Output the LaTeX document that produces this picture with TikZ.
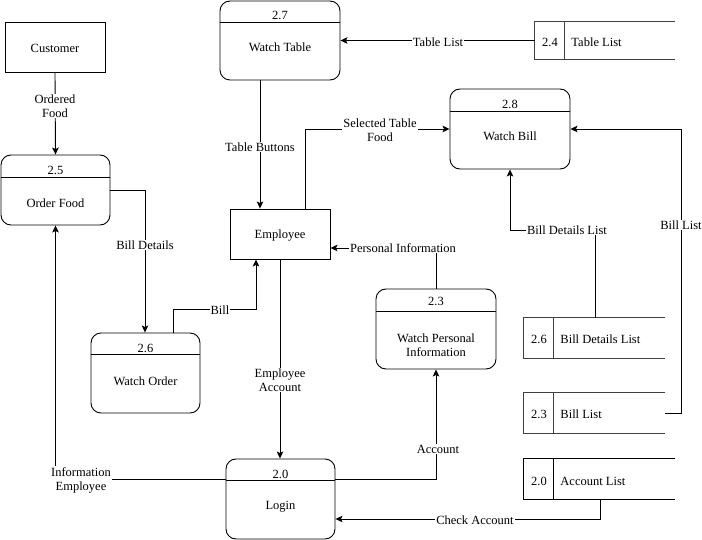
\documentclass[tikz,border=0pt]{standalone}
\usepackage{fontspec}
\setmainfont{Liberation Serif}
\newfontfamily\dfdfont{Liberation Serif}
\usetikzlibrary{arrows.meta,calc}

\begin{document}
\begin{tikzpicture}[x=1pt,y=-1pt,line width=0.9pt,
  every node/.style={font=\dfdfont\fontsize{12.5}{14}\selectfont,inner sep=0pt},
  procbox/.style={draw,rounded corners=10pt},
  extbox/.style={draw,rectangle},
  storebox/.style={rectangle},
  storeline/.style={draw=black!75,line width=1.1pt},
  lbl/.style={fill=white,inner sep=1pt,align=center},
  flow/.style={-{Stealth[length=7pt,width=6.5pt,inset=1.5pt]}}]

\useasboundingbox (0,0) rectangle (702,540);

% ---------- external entities ----------
\node[extbox,minimum width=100pt,minimum height=50pt] (cust) at (55,47) {};
\node (custt) at (55,48) {Customer};
\node[extbox,minimum width=100pt,minimum height=50pt] (emp) at (280,234) {};
\node (empt) at (280,236) {Employee};

% ---------- processes (box, divider, number, name) ----------
\node[procbox,minimum width=109pt,minimum height=70pt] (p25) at (55.5,190) {};
\draw ([yshift=-23pt]p25.north west) -- ([yshift=-23pt]p25.north east);
\node (p25n) at (55.5,170) {2.5};
\node (p25t) at (55.5,203) {Order Food};

\node[procbox,minimum width=120pt,minimum height=79pt] (p27) at (280,40.5) {};
\draw ([yshift=-22pt]p27.north west) -- ([yshift=-22pt]p27.north east);
\node (p27n) at (280,15) {2.7};
\node (p27t) at (280,47.5) {Watch Table};

\node[procbox,minimum width=120pt,minimum height=80pt] (p28) at (510,129) {};
\draw ([yshift=-23pt]p28.north west) -- ([yshift=-23pt]p28.north east);
\node (p28n) at (510,104) {2.8};
\node (p28t) at (510,136.5) {Watch Bill};

\node[procbox,minimum width=120pt,minimum height=80pt] (p23) at (436,329) {};
\draw ([yshift=-23pt]p23.north west) -- ([yshift=-23pt]p23.north east);
\node (p23n) at (436,301) {2.3};
\node[align=center] (p23t) at (436,345) {Watch Personal\\Information};

\node[procbox,minimum width=109pt,minimum height=80pt] (p26) at (145.5,373) {};
\draw ([yshift=-22pt]p26.north west) -- ([yshift=-22pt]p26.north east);
\node (p26n) at (145.5,348) {2.6};
\node (p26t) at (145.5,381) {Watch Order};

\node[procbox,minimum width=109pt,minimum height=80pt] (p20) at (280.5,499) {};
\draw ([yshift=-22pt]p20.north west) -- ([yshift=-22pt]p20.north east);
\node (p20n) at (280.5,474) {2.0};
\node (p20t) at (280.5,507) {Login};

% ---------- data stores (open on the right) ----------
\node[storebox,minimum width=140pt,minimum height=37pt] (s24) at (605,40.5) {};
\draw[storeline] (s24.north east) -- (s24.north west) -- (s24.south west) -- (s24.south east);
\draw[storeline] ([xshift=30pt]s24.north west) -- ([xshift=30pt]s24.south west);
\node (s24n) at (550,42) {2.4};
\node[anchor=west] (s24t) at (571,42) {Table List};

\node[storebox,minimum width=141pt,minimum height=40pt] (s26) at (594.5,338) {};
\draw[storeline] (s26.north east) -- (s26.north west) -- (s26.south west) -- (s26.south east);
\draw[storeline] ([xshift=30pt]s26.north west) -- ([xshift=30pt]s26.south west);
\node (s26n) at (539,339) {2.6};
\node[anchor=west] (s26t) at (560,339) {Bill Details List};

\node[storebox,minimum width=141pt,minimum height=40pt] (s23) at (594.5,413) {};
\draw[storeline] (s23.north east) -- (s23.north west) -- (s23.south west) -- (s23.south east);
\draw[storeline] ([xshift=30pt]s23.north west) -- ([xshift=30pt]s23.south west);
\node (s23n) at (539,414) {2.3};
\node[anchor=west] (s23t) at (560,414) {Bill List};

\node[storebox,minimum width=151pt,minimum height=40pt] (s20) at (599.5,479) {};
\draw (s20.north east) -- (s20.north west) -- (s20.south west) -- (s20.south east);
\draw ([xshift=30pt]s20.north west) -- ([xshift=30pt]s20.south west);
\node (s20n) at (539,481) {2.0};
\node[anchor=west] (s20t) at (560,481) {Account List};

% ---------- data flows ----------
\draw[flow] (cust.south) -- (p25.north);
\node[lbl] (lOrdered) at (55,106) {Ordered\\Food};

\draw[flow] (s24.west) -- (s24.west -| p27.east);
\node[lbl] (lTable) at (438,42) {Table List};

\draw[flow] ([xshift=-20pt]p27.south) -- ([xshift=-20pt]p27.south |- emp.north);
\node[lbl] (lButtons) at (260,147) {Table Buttons};

\draw[flow] ([xshift=25pt]emp.north) |- (p28.west);
\node[lbl] (lSelected) at (380,130) {Selected Table\\Food};

\draw[flow] (p23.north) |- ([yshift=-14pt]emp.east);
\node[lbl] (lPersonal) at (403,248) {Personal Information};

\coordinate (bdl) at (595,230);
\draw[flow] ([xshift=0.5pt]s26.north) -- (bdl) -| (p28.south);
\node[lbl] (lBillDet) at (567,230) {Bill Details List};

\coordinate (bl) at (681,413);
\draw[flow] (s23.east) -- (bl) |- (p28.east);
\node[lbl] (lBillList) at (681,225) {Bill List};

\draw[flow] ([xshift=0.5pt]s20.south) |- ([yshift=-20pt]p20.east);
\node[lbl] (lCheck) at (475,520) {Check Account};

\draw[flow] ([yshift=20pt]p20.east) -| (p23.south);
\node[lbl] (lAccount) at (438,449) {Account};

\draw[flow] ([yshift=20pt]p20.west) -| (p25.south);
\node[lbl] (lInfo) at (81,480) {Information\\Employee};

\draw[flow] (emp.south) -- (emp.south |- p20.north);
\node[lbl] (lEmpAcc) at (280,380) {Employee\\Account};

\draw[flow] (p25.east) -| ([xshift=-0.5pt]p26.north);
\node[lbl] (lBillDetails) at (145,245) {Bill Details};

\coordinate (billturn) at (173,309);
\draw[flow] (p26.north -| billturn) -- (billturn) -| ([xshift=-24pt]emp.south);
\node[lbl] (lBill) at (220,310) {Bill};

\end{tikzpicture}
\end{document}
